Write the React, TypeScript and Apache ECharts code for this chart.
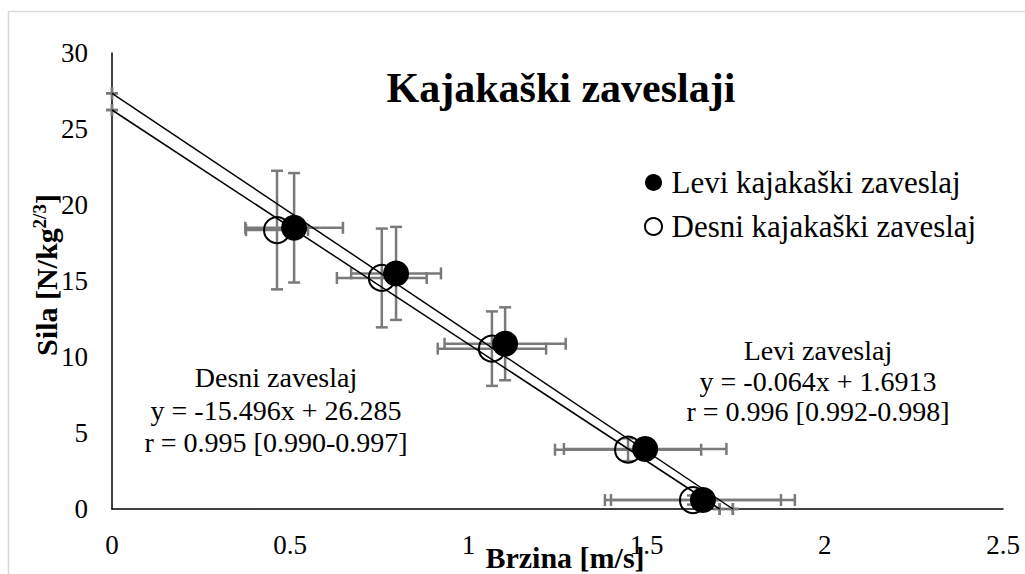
import React, { useEffect, useRef } from "react";
import * as echarts from "echarts";

const FONT = '"Liberation Serif", "Times New Roman", serif';

// Levi kajakaški zaveslaj (filled)
const leviX = [0.511, 0.797, 1.103, 1.496, 1.658];
const leviY = [18.5, 15.5, 10.87, 3.95, 0.59];
const leviXErr = [0.137, 0.126, 0.17, 0.228, 0.258];
const leviYErr = [3.6, 3.06, 2.4, 0.7, 0.3];

// Desni kajakaški zaveslaj (open)
const desniX = [0.463, 0.757, 1.066, 1.448, 1.63];
const desniY = [18.35, 15.2, 10.55, 3.9, 0.59];
const desniXErr = [0.087, 0.126, 0.152, 0.205, 0.247];
const desniYErr = [3.9, 3.25, 2.45, 0.75, 0.3];

// Trend lines (endpoints)
const leviTrend = [[0, 27.35], [1.742, 0]];
const desniTrend = [[0, 26.25], [1.705, 0]];

const xTicks = { min: 0, max: 2.5, interval: 0.5 };
const yTicks = { min: 0, max: 30, interval: 5 };

const ERR_COLOR = "#7a7a7a";

function errorData(xs: number[], ys: number[], ex: number[], ey: number[]) {
  return xs.map((x, i) => [x, ys[i], ex[i], ey[i]]);
}

function renderError(params: any, api: any) {
  const x = api.value(0);
  const y = api.value(1);
  const ex = api.value(2);
  const ey = api.value(3);
  const l = api.coord([x - ex, y]);
  const r = api.coord([x + ex, y]);
  const t = api.coord([x, y + ey]);
  const b = api.coord([x, y - ey]);
  const c = 6;
  const style = { stroke: ERR_COLOR, lineWidth: 2.5 };
  const ln = (x1: number, y1: number, x2: number, y2: number) => ({
    type: "line",
    shape: { x1, y1, x2, y2 },
    style,
  });
  return {
    type: "group",
    children: [
      ln(l[0], l[1], r[0], r[1]),
      ln(l[0], l[1] - c, l[0], l[1] + c),
      ln(r[0], r[1] - c, r[0], r[1] + c),
      ln(t[0], t[1], b[0], b[1]),
      ln(t[0] - c, t[1], t[0] + c, t[1]),
      ln(b[0] - c, b[1], b[0] + c, b[1]),
    ],
  };
}

export default function App() {
  const ref = useRef<HTMLDivElement>(null);
  useEffect(() => {
    if (!ref.current) return;
    const chart = echarts.init(ref.current, null, { renderer: "svg" });
    const txt = (text: string, x: number, y: number, size: number, bold = false) => ({
      type: "text",
      x,
      y,
      style: {
        text,
        fontSize: size,
        fontFamily: FONT,
        fontWeight: bold ? "bold" : "normal",
        fill: "#000",
        align: "center",
        verticalAlign: "middle",
      },
      z: 100,
    });
    chart.setOption({
      animation: false,
      backgroundColor: "#fff",
      grid: { left: 112, top: 53, width: 891, height: 456 },
      xAxis: {
        type: "value",
        ...xTicks,
        axisLine: { show: true, lineStyle: { color: "#000", width: 1.5 } },
        axisTick: { show: false },
        splitLine: { show: false },
        axisLabel: { margin: 22, fontSize: 27, fontFamily: FONT, color: "#000" },
      },
      yAxis: {
        type: "value",
        ...yTicks,
        axisLine: { show: true, lineStyle: { color: "#000", width: 1.5 } },
        axisTick: { show: false },
        splitLine: { show: false },
        axisLabel: { margin: 24, fontSize: 27, fontFamily: FONT, color: "#000" },
      },
      legend: {
        orient: "vertical",
        left: 639,
        top: 162,
        itemWidth: 26,
        itemHeight: 17,
        itemGap: 13,
        textStyle: { fontSize: 31, lineHeight: 31, fontFamily: FONT, color: "#000" },
        data: [
          { name: "Levi kajakaški zaveslaj", icon: "circle", itemStyle: { color: "#000" } },
          {
            name: "Desni kajakaški zaveslaj",
            icon: "circle",
            itemStyle: { color: "#fff", borderColor: "#000", borderWidth: 2 },
          },
        ],
      },
      series: [
        {
          type: "custom",
          name: "errLevi",
          renderItem: renderError,
          data: errorData(leviX, leviY, leviXErr, leviYErr),
          encode: { x: 0, y: 1 },
          z: 1,
        },
        {
          type: "custom",
          name: "errDesni",
          renderItem: renderError,
          data: errorData(desniX, desniY, desniXErr, desniYErr),
          encode: { x: 0, y: 1 },
          z: 1,
        },
        {
          type: "custom",
          name: "errTrend",
          renderItem: renderError,
          data: [...leviTrend, ...desniTrend].map((p) => [p[0], p[1], 0, 0]),
          encode: { x: 0, y: 1 },
          z: 1,
        },
        {
          type: "line",
          name: "trendLevi",
          data: leviTrend,
          symbol: "none",
          lineStyle: { color: "#000", width: 1.5 },
          z: 2,
        },
        {
          type: "line",
          name: "trendDesni",
          data: desniTrend,
          symbol: "none",
          lineStyle: { color: "#000", width: 1.5 },
          z: 2,
        },
        {
          type: "scatter",
          name: "Desni kajakaški zaveslaj",
          data: desniX.map((x, i) => [x, desniY[i]]),
          symbol: "circle",
          symbolSize: 26,
          itemStyle: { color: "rgba(0,0,0,0)", borderColor: "#000", borderWidth: 2, opacity: 1 },
          z: 3,
        },
        {
          type: "scatter",
          name: "Levi kajakaški zaveslaj",
          data: leviX.map((x, i) => [x, leviY[i]]),
          symbol: "circle",
          symbolSize: 26,
          itemStyle: { color: "#000", opacity: 1 },
          z: 4,
        },
      ],
      graphic: [
        {
          type: "rect",
          shape: { x: 8.5, y: 11.5, width: 1100, height: 700 },
          style: { fill: "none", stroke: "#d9d9d9", lineWidth: 1.5 },
          z: -1,
        },
        txt("Kajakaški zaveslaji", 561, 88, 42, true),
        txt("Brzina [m/s]", 565, 557, 30, true),
        {
          type: "text",
          x: 46,
          y: 275,
          rotation: Math.PI / 2,
          style: {
            text: "{a|Sila [N/kg}{b|2/3}{a|]}",
            align: "center",
            verticalAlign: "middle",
            rich: {
              a: { fontSize: 30, fontWeight: "bold", fontFamily: FONT, fill: "#000", lineHeight: 32 },
              b: {
                fontSize: 19,
                fontWeight: "bold",
                fontFamily: FONT,
                fill: "#000",
                verticalAlign: "top",
              },
            },
          },
          z: 100,
        },
        txt("Desni zaveslaj", 276, 377, 28),
        txt("y = -15.496x + 26.285", 276, 410, 28),
        txt("r = 0.995 [0.990-0.997]", 276, 442, 28),
        txt("Levi zaveslaj", 818, 350, 28),
        txt("y = -0.064x + 1.6913", 818, 381, 28),
        txt("r = 0.996 [0.992-0.998]", 818, 411, 28),
      ],
    });
    return () => chart.dispose();
  }, []);
  return (
    <div
      ref={ref}
      style={{ position: "fixed", left: 0, top: 0, width: 1025, height: 574, background: "#fff" }}
    />
  );
}
